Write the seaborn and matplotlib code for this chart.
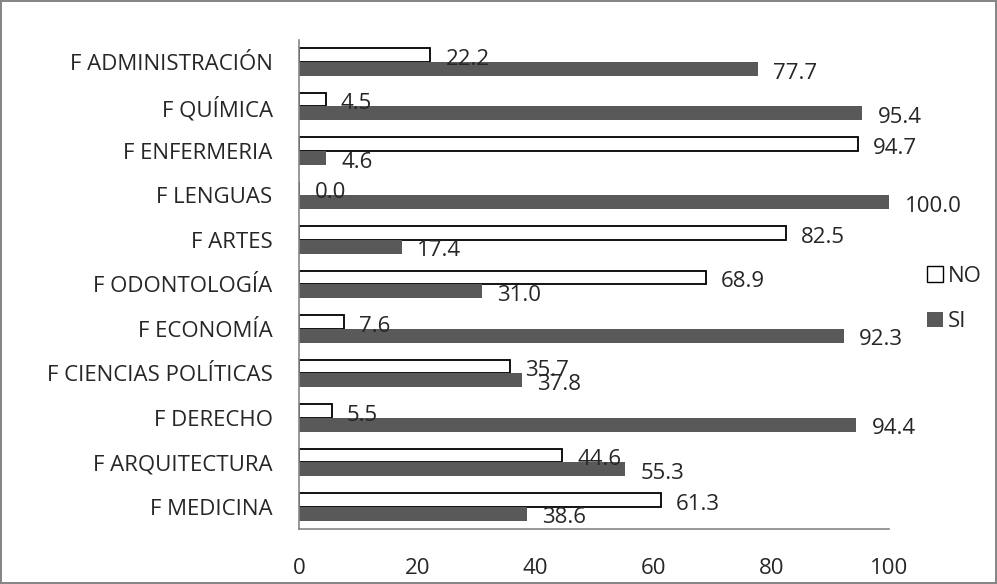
import matplotlib
matplotlib.use("Agg")
import matplotlib.pyplot as plt
import pandas as pd
import numpy as np
import seaborn as sns

facultades = ["F ADMINISTRACIÓN", "F QUÍMICA", "F ENFERMERIA", "F LENGUAS", "F ARTES",
              "F ODONTOLOGÍA", "F ECONOMÍA", "F CIENCIAS POLÍTICAS", "F DERECHO",
              "F ARQUITECTURA", "F MEDICINA"]
no_vals = [22.2, 4.5, 94.7, 0.0, 82.5, 68.9, 7.6, 35.7, 5.5, 44.6, 61.3]
si_vals = [77.7, 95.4, 4.6, 100.0, 17.4, 31.0, 92.3, 37.8, 94.4, 55.3, 38.6]
x_ticks = [0, 20, 40, 60, 80, 100]

sns.set_style("white")
plt.rcParams['font.family'] = ['Open Sans', 'DejaVu Sans']
fs = 16

data = pd.DataFrame({
    'Facultad': facultades * 2,
    'Valor': no_vals + si_vals,
    'Respuesta': ['NO'] * len(no_vals) + ['SI'] * len(si_vals),
})

fig = plt.figure(figsize=(9.97, 5.84), dpi=100)
fig.patch.set_edgecolor('#868686')
fig.patch.set_linewidth(1.5)
ax = fig.add_axes([0.300, 0.094, 0.592, 0.838])

sns.barplot(data=data, y='Facultad', x='Valor', hue='Respuesta', hue_order=['NO', 'SI'],
            order=facultades, orient='h', width=0.62, palette={'NO': 'white', 'SI': '#595959'},
            saturation=1, ax=ax, errorbar=None)

# style bars: NO white with black edge, SI solid grey
for bar in ax.containers[0]:
    bar.set_edgecolor('black')
    bar.set_linewidth(1.3)
for bar in ax.containers[1]:
    bar.set_edgecolor('none')

# value labels
for cont in ax.containers:
    for bar in cont:
        w = bar.get_width()
        yc = bar.get_y() + bar.get_height() / 2
        ax.annotate(f"{w:.1f}", (w, yc), xytext=(11, -3), textcoords='offset points',
                    ha='left', va='center', fontsize=fs)

ax.set_xlim(0, 100)
ax.set_ylim(len(facultades) - 0.5, -0.5)
ax.set_xticks(x_ticks)
ax.set_xlabel('')
ax.set_ylabel('')

for s in ['top', 'right']:
    ax.spines[s].set_visible(False)
for s in ['left', 'bottom']:
    ax.spines[s].set_color('#868686')
    ax.spines[s].set_linewidth(1.2)

ax.set_yticks(np.arange(-0.5, len(facultades)), minor=True)
ax.tick_params(axis='y', which='major', length=0, pad=19, labelsize=fs)
ax.tick_params(axis='y', which='minor', length=6, color='#868686', width=1.2, direction='out')
ax.tick_params(axis='x', which='major', length=6, color='#868686', width=1.2, direction='out',
               pad=15, labelsize=fs)

leg = ax.legend(loc='center left', bbox_to_anchor=(1.03, 0.47), frameon=False, fontsize=fs,
                handlelength=0.7, handleheight=0.7, handletextpad=0.25, labelspacing=1.1)
for h in leg.legend_handles:
    h.set_edgecolor('black') if h.get_facecolor()[0] > 0.9 else h.set_edgecolor('none')

fig.savefig('out.png', dpi=100, edgecolor=fig.get_edgecolor())
